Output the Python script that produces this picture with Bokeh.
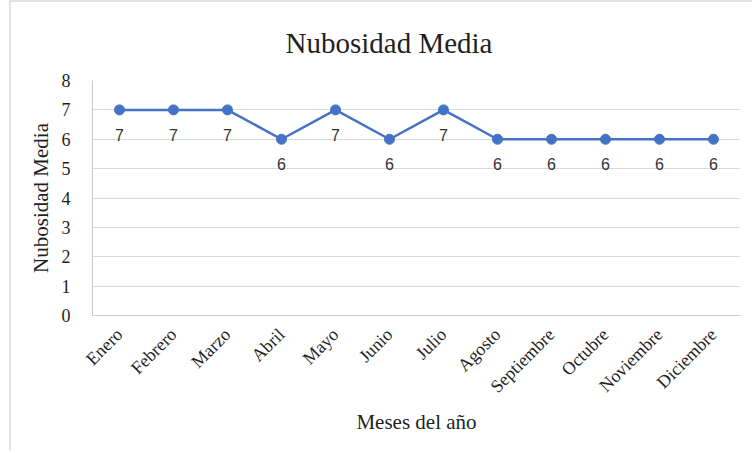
import math
from bokeh.plotting import figure
from bokeh.models import FixedTicker, ColumnDataSource, Range1d, FactorRange
from bokeh.core.properties import value
from bokeh.embed import file_html
from bokeh.resources import INLINE

# Monthly mean cloud cover
meses = ["Enero", "Febrero", "Marzo", "Abril", "Mayo", "Junio", "Julio",
         "Agosto", "Septiembre", "Octubre", "Noviembre", "Diciembre"]
nubosidad = [7, 7, 7, 6, 7, 6, 7, 6, 6, 6, 6, 6]
y_ticks = [0, 1, 2, 3, 4, 5, 6, 7, 8]

SERIF = "Liberation Serif"
SANS = "Liberation Sans"
LINE = "#4472C4"
GRID = "#d9d9d9"
TEXT = "#1f1f1f"

src = ColumnDataSource(dict(mes=meses, val=nubosidad,
                            lbl=[str(v) for v in nubosidad]))

p = figure(width=743, height=451, x_range=FactorRange(*meses, range_padding=0),
           y_range=Range1d(0, 8), output_backend="svg", toolbar_location=None,
           title="Nubosidad Media",
           min_border_left=81, min_border_right=14, min_border_top=78,
           min_border_bottom=138)
p.margin = (0, 0, 0, 9)
p.styles = {"border-top": "2px solid #e3e3e3", "border-left": "2px solid #e3e3e3"}

p.background_fill_color = "white"
p.border_fill_color = "white"
p.outline_line_color = None

# title sits left-aligned, shifted so it is centred over the whole chart
p.title.align = "left"
p.title.offset = 193
p.title.text_font = SERIF
p.title.text_font_size = "29px"
p.title.text_font_style = "normal"
p.title.text_color = TEXT
p.title.text_line_height = 0.8
p.title.standoff = 44

p.xgrid.grid_line_color = None
p.ygrid.grid_line_color = GRID
p.ygrid.grid_line_width = 1

p.yaxis.ticker = FixedTicker(ticks=y_ticks)
p.yaxis.axis_label = "Nubosidad Media"
p.xaxis.axis_label = "Meses del año"
for ax in (p.xaxis, p.yaxis):
    ax.axis_line_color = "#c8c8c8"
    ax.axis_line_width = 1
    ax.major_tick_line_color = None
    ax.minor_tick_line_color = None
    ax.major_label_text_font = SERIF
    ax.major_label_text_font_size = "18px"
    ax.major_label_text_color = TEXT
    ax.axis_label_text_font = SERIF
    ax.axis_label_text_font_size = "21px"
    ax.axis_label_text_font_style = "normal"
    ax.axis_label_text_color = TEXT

p.yaxis.major_label_standoff = 16
p.yaxis.axis_label_standoff = 6
p.xaxis.major_label_text_font_size = "18px"
p.xaxis.major_label_orientation = math.pi / 4
p.xaxis.major_label_standoff = 10
p.xaxis.axis_label_standoff = 3

p.line("mes", "val", source=src, line_color=LINE, line_width=2.5)
p.scatter("mes", "val", source=src, size=10, fill_color=LINE, line_color=LINE)
p.text("mes", "val", text="lbl", source=src, y_offset=25,
       text_align="center", text_baseline="middle",
       text_font=value(SANS), text_font_size="16px", text_color="#333333")

open("out.html", "w").write(file_html(p, INLINE))
